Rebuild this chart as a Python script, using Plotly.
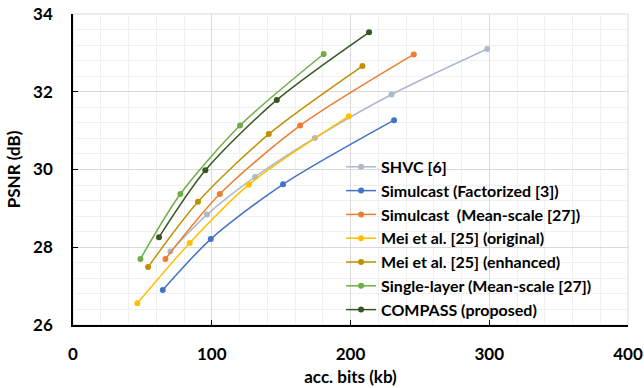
import plotly.graph_objects as go

names = ["SHVC [6]", "Simulcast (Factorized [3])", "Simulcast  (Mean-scale [27])",
         "Mei et al. [25] (original)", "Mei et al. [25] (enhanced)",
         "Single-layer (Mean-scale [27])", "COMPASS (proposed)"]
colors = ["#ADB9CA", "#4472C4", "#ED7D31", "#FFC000", "#BF9000", "#70AD47", "#375623"]

shvc_x = [70.2, 96.6, 131.2, 174.3, 229.6, 298.5]
shvc_y = [27.89, 28.84, 29.81, 30.81, 31.93, 33.10]
fact_x = [64.7, 99.3, 151.4, 231.4]
fact_y = [26.90, 28.21, 29.62, 31.27]
ms_x = [66.6, 105.8, 163.7, 245.6]
ms_y = [27.70, 29.37, 31.13, 32.96]
mei_o_x = [46.4, 84.1, 126.7, 198.8]
mei_o_y = [26.56, 28.11, 29.61, 31.37]
mei_e_x = [54.1, 90.1, 141.1, 208.6]
mei_e_y = [27.49, 29.17, 30.91, 32.66]
single_x = [48.6, 77.4, 120.4, 180.7]
single_y = [27.70, 29.37, 31.13, 32.97]
compass_x = [62.0, 95.4, 146.9, 213.4]
compass_y = [28.26, 29.98, 31.79, 33.53]

xs = [shvc_x, fact_x, ms_x, mei_o_x, mei_e_x, single_x, compass_x]
ys = [shvc_y, fact_y, ms_y, mei_o_y, mei_e_y, single_y, compass_y]

x_ticks = [0, 100, 200, 300, 400]
y_ticks = [26, 28, 30, 32, 34]

fig = go.Figure()
for n, c, x, y in zip(names, colors, xs, ys):
    fig.add_trace(go.Scatter(x=x, y=y, name=n, mode="lines+markers",
                             line=dict(color=c, width=1.5, shape="spline", smoothing=0.8),
                             marker=dict(color=c, size=6)))

font_family = "Lato"
fig.update_layout(
    width=644, height=388,
    margin=dict(l=73, r=16, t=14, b=63, autoexpand=False),
    paper_bgcolor="white", plot_bgcolor="white",
    font=dict(family=font_family, color="black"),
    legend=dict(x=0.483, y=0.563, xanchor="left", yanchor="top",
                bgcolor="rgba(0,0,0,0)", itemwidth=30, tracegroupgap=0,
                font=dict(family=font_family, size=16, weight="bold", color="black")),
    showlegend=True,
)
fig.update_xaxes(range=[0, 400], tickvals=x_ticks, ticktext=[str(v) for v in x_ticks],
                 showgrid=True, gridcolor="#D9D9D9", gridwidth=1,
                 minor=dict(dtick=20, showgrid=True, gridcolor="#F0F0F0", gridwidth=1),
                 showline=True, linecolor="black", linewidth=1.5,
                 ticks="inside", ticklen=5, tickcolor="black", ticklabelstandoff=13,
                 ticklabeloverflow="allow",
                 tickfont=dict(size=17, weight="bold"), zeroline=False, automargin=False,
                 title=dict(text="acc. bits (kb)", font=dict(size=17, weight="bold"), standoff=8))
fig.update_yaxes(range=[26, 34], tickvals=y_ticks, ticktext=[str(v) for v in y_ticks],
                 showgrid=True, gridcolor="#D9D9D9", gridwidth=1,
                 minor=dict(dtick=0.4, showgrid=True, gridcolor="#F0F0F0", gridwidth=1),
                 showline=True, linecolor="black", linewidth=1.5,
                 ticks="inside", ticklen=5, tickcolor="black", ticklabelstandoff=15,
                 ticklabeloverflow="allow",
                 tickfont=dict(size=17, weight="bold"), zeroline=False, automargin=False,
                 title=dict(text="PSNR (dB)", font=dict(size=17, weight="bold"), standoff=8))
# light border on top/right
fig.add_shape(type="rect", xref="paper", yref="paper", x0=0, y0=0, x1=1, y1=1,
              line=dict(color="#D9D9D9", width=1), layer="below")
fig.write_html("out.html",
               config={"displayModeBar": False},
               post_script="document.body.style.margin='0';document.body.style.overflow='hidden';")
